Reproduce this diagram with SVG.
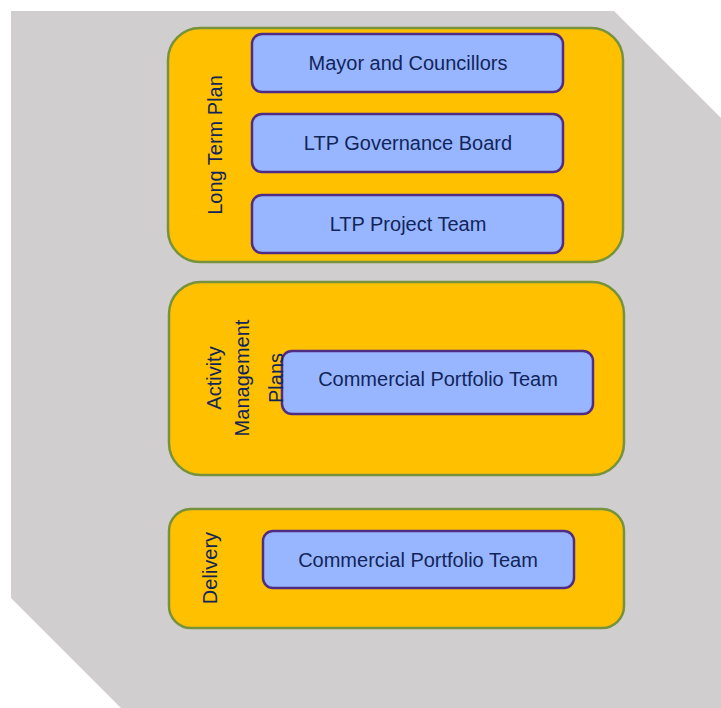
<svg xmlns="http://www.w3.org/2000/svg" width="721" height="708" viewBox="0 0 721 708">
<style>
.grp{fill:#FFC000;stroke:#76923C;stroke-width:2.5}
.box{fill:#98B6FF;stroke:#512C85;stroke-width:2.5}
.t{font-family:"Liberation Sans",Arial,sans-serif;font-size:20px;fill:#112559;text-anchor:middle}
</style>
<rect width="721" height="708" fill="#ffffff"/>
<polygon points="11,11 614,11 721,118 721,708 121,708 11,598" fill="#D0CECF"/>
<g id="ltp">
<rect class="grp" x="168" y="28" width="455" height="234" rx="32" ry="32"/>
<text class="t" transform="translate(222,145) rotate(-90)">Long Term Plan</text>
</g>
<g id="mayor">
<rect class="box" x="252" y="34" width="311" height="58" rx="10" ry="10"/>
<text class="t" x="408" y="70">Mayor and Councillors</text>
</g>
<g id="board">
<rect class="box" x="252" y="114" width="311" height="58" rx="10" ry="10"/>
<text class="t" x="408" y="150">LTP Governance Board</text>
</g>
<g id="project">
<rect class="box" x="252" y="195" width="311" height="58" rx="10" ry="10"/>
<text class="t" x="408" y="231">LTP Project Team</text>
</g>
<g id="amp">
<rect class="grp" x="169" y="282" width="455" height="193" rx="32" ry="32"/>
<text class="t" transform="translate(221,378) rotate(-90)">Activity</text>
<text class="t" transform="translate(249,378) rotate(-90)">Management</text>
</g>
<g id="cpt1">
<rect class="box" x="282" y="351" width="311" height="63" rx="10" ry="10"/>
<text class="t" x="438" y="386">Commercial Portfolio Team</text>
</g>
<g id="amp-label">
<text class="t" transform="translate(283,378) rotate(-90)">Plans</text>
</g>
<g id="delivery">
<rect class="grp" x="169" y="509" width="455" height="119" rx="22" ry="22"/>
<text class="t" transform="translate(217,568) rotate(-90)">Delivery</text>
</g>
<g id="cpt2">
<rect class="box" x="263" y="531" width="311" height="57" rx="10" ry="10"/>
<text class="t" x="418" y="567">Commercial Portfolio Team</text>
</g>
<g id="connectors"/>
</svg>
